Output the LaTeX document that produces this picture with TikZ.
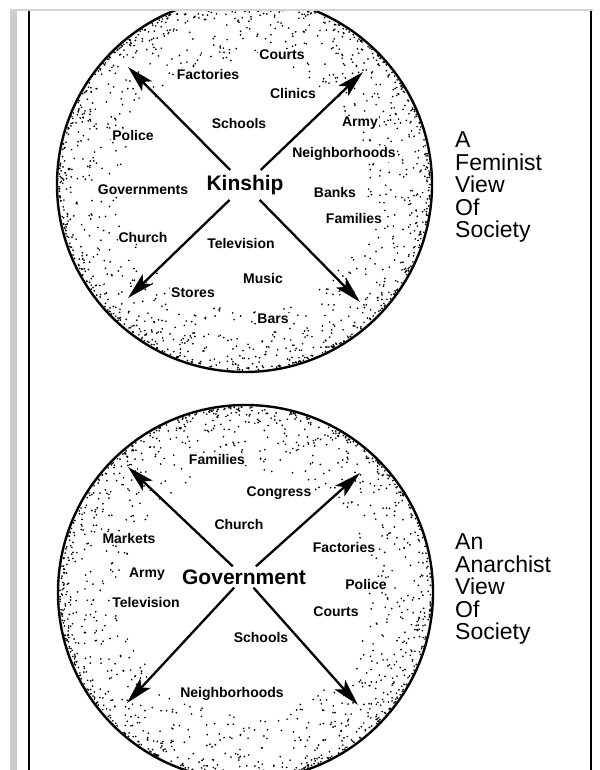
\documentclass[tikz,border=0pt]{standalone}
\usepackage{fontspec}
\setmainfont{Liberation Sans}
\usetikzlibrary{arrows.meta}

\tikzset{
  item/.style={font=\bfseries\fontsize{14}{14}\selectfont, fill=white, inner sep=1pt},
  hub/.style={font=\bfseries\fontsize{21}{21}\selectfont},
  title/.style={font=\fontsize{23}{22.5}\selectfont, align=left, anchor=north west, inner sep=0pt},
  spoke/.style={line width=2.3pt, -{Stealth[length=27pt,width=14pt,inset=6pt]}},
  rim/.style={line width=2.4pt},
}

\begin{document}
\begin{tikzpicture}[x=1pt,y=-1pt]
    \useasboundingbox (0,0) rectangle (599,770);

    % frame of the page
    \fill[gray!35] (10,9) rectangle (593,11.5);
    \fill[gray!40] (10,11) rectangle (17,770);
    \draw[line width=2.5pt] (29,11) -- (29,770);
    \draw[line width=2.5pt] (591,11) -- (591,770);

    \begin{scope}
        \clip (30,11.5) rectangle (590,770);
        % stippled rims
        \pgfmathsetseed{11}
        \foreach \cx/\cy in {244.5/184.5, 245.5/592.5} {
            \begin{scope}[shift={(\cx,\cy)}]
                \foreach \i in {1,...,1300} {
                    \pgfmathsetmacro\ang{360*rnd}
                    \pgfmathsetmacro\rad{185.5-62*rnd^2.5}
                    \fill (\ang:\rad) circle (0.95pt);
                }
                \draw[rim] (0,0) circle [radius=187.5pt];
            \end{scope}
        }
    \end{scope}

    % a feminist view
    \node[hub, inner sep=5pt] (kin) at (245,185) {Kinship};
    \coordinate (kin-nw) at (128,67);
    \coordinate (kin-ne) at (363,72);
    \coordinate (kin-sw) at (128,298);
    \coordinate (kin-se) at (360,302);
    \foreach \d in {nw,ne,sw,se} {
        \draw[spoke] (kin) -- (kin-\d);
    }

    \node[item] (k-courts) at (282,55) {Courts};
    \node[item] (k-factories) at (208,74) {Factories};
    \node[item] (k-clinics) at (293,93) {Clinics};
    \node[item] (k-schools) at (239,123) {Schools};
    \node[item] (k-army) at (360,123) {Army};
    \node[item] (k-police) at (133,135) {Police};
    \node[item] (k-neigh) at (344,154) {Neighborhoods};
    \node[item] (k-govs) at (143,190) {Governments};
    \node[item] (k-banks) at (335,192) {Banks};
    \node[item] (k-families) at (354,218) {Families};
    \node[item] (k-church) at (143,237) {Church};
    \node[item] (k-tv) at (241,243) {Television};
    \node[item] (k-music) at (263,278) {Music};
    \node[item] (k-stores) at (193,293) {Stores};
    \node[item] (k-bars) at (273,319) {Bars};

    \node[title] (t-fem) at (455,131.5) {A\\Feminist\\View\\Of\\Society};

    % an anarchist view
    \node[hub, inner sep=3pt] (gov) at (244,577) {Government};
    \coordinate (gov-nw) at (128,467);
    \coordinate (gov-ne) at (360,473);
    \coordinate (gov-sw) at (127,703);
    \coordinate (gov-se) at (358,705);
    \foreach \d in {nw,ne,sw,se} {
        \draw[spoke] (gov) -- (gov-\d);
    }

    \node[item] (g-families) at (217,459) {Families};
    \node[item] (g-congress) at (279,493) {Congress};
    \node[item] (g-church) at (239,524) {Church};
    \node[item] (g-markets) at (129,538) {Markets};
    \node[item] (g-factories) at (344,547) {Factories};
    \node[item] (g-army) at (147,574) {Army};
    \node[item] (g-police) at (366,584) {Police};
    \node[item] (g-tv) at (146,602) {Television};
    \node[item] (g-courts) at (336,612) {Courts};
    \node[item] (g-schools) at (261,637) {Schools};
    \node[item] (g-neigh) at (232,694) {Neighborhoods};

    \node[title] (t-ana) at (455,533.5) {An\\Anarchist\\View\\Of\\Society};
\end{tikzpicture}
\end{document}
